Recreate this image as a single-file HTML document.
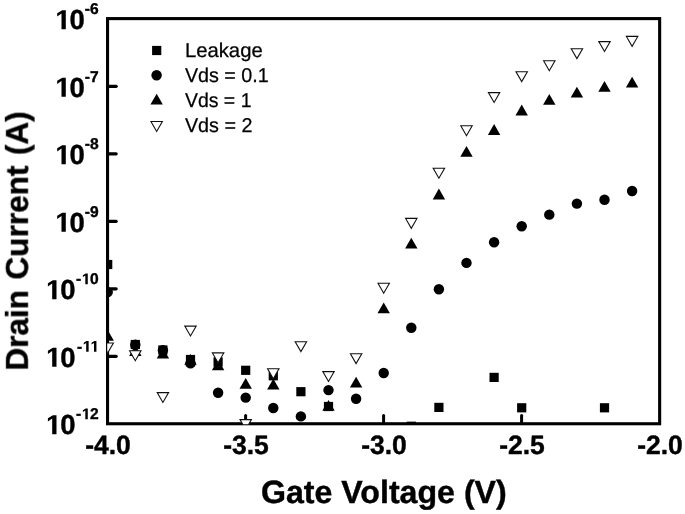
<!DOCTYPE html>
<html><head><meta charset="utf-8"><title>Chart</title>
<style>
html,body{margin:0;padding:0;background:#fff;}
svg{display:block;}
text{font-family:"Liberation Sans",sans-serif;font-weight:bold;fill:#000;stroke:#000;stroke-width:0.4;text-rendering:geometricPrecision;}
</style></head><body>
<svg width="685" height="514" viewBox="0 0 685 514">
<rect x="0" y="0" width="685" height="514" fill="#fff"/>
<defs><filter id="soft" x="0" y="0" width="685" height="514" filterUnits="userSpaceOnUse"><feGaussianBlur stdDeviation="0.45"/></filter><clipPath id="pc"><rect x="107.2" y="18.5" width="552.5" height="405.8"/></clipPath></defs>
<g filter="url(#soft)">
<g><line x1="108" y1="86.35" x2="116.2" y2="86.35" stroke="#000" stroke-width="3.1" stroke-linecap="round"/><line x1="108" y1="153.85" x2="116.2" y2="153.85" stroke="#000" stroke-width="3.1" stroke-linecap="round"/><line x1="108" y1="221.35" x2="116.2" y2="221.35" stroke="#000" stroke-width="3.1" stroke-linecap="round"/><line x1="108" y1="288.85" x2="116.2" y2="288.85" stroke="#000" stroke-width="3.1" stroke-linecap="round"/><line x1="108" y1="356.35" x2="116.2" y2="356.35" stroke="#000" stroke-width="3.1" stroke-linecap="round"/><line x1="245.60" y1="423" x2="245.60" y2="415.6" stroke="#000" stroke-width="3" stroke-linecap="round"/><line x1="383.60" y1="423" x2="383.60" y2="415.6" stroke="#000" stroke-width="3" stroke-linecap="round"/><line x1="521.60" y1="423" x2="521.60" y2="415.6" stroke="#000" stroke-width="3" stroke-linecap="round"/></g>
<rect x="107.55" y="18.6" width="552.1" height="405.15" fill="none" stroke="#000" stroke-width="3.1"/>
<g clip-path="url(#pc)">
<rect x="103.10" y="259.90" width="9.2" height="9.2" fill="#000"/>
<rect x="130.70" y="339.90" width="9.2" height="9.2" fill="#000"/>
<rect x="158.30" y="345.40" width="9.2" height="9.2" fill="#000"/>
<rect x="185.90" y="354.90" width="9.2" height="9.2" fill="#000"/>
<rect x="213.50" y="357.40" width="9.2" height="9.2" fill="#000"/>
<rect x="241.10" y="365.70" width="9.2" height="9.2" fill="#000"/>
<rect x="268.70" y="371.20" width="9.2" height="9.2" fill="#000"/>
<rect x="296.30" y="387.10" width="9.2" height="9.2" fill="#000"/>
<rect x="323.90" y="401.90" width="9.2" height="9.2" fill="#000"/>
<rect x="406.70" y="421.65" width="9.2" height="9.2" fill="#000"/>
<rect x="434.30" y="402.80" width="9.2" height="9.2" fill="#000"/>
<rect x="489.50" y="372.80" width="9.2" height="9.2" fill="#000"/>
<rect x="517.10" y="403.20" width="9.2" height="9.2" fill="#000"/>
<rect x="599.90" y="403.20" width="9.2" height="9.2" fill="#000"/>
<circle cx="107.70" cy="292.10" r="5.22" fill="#000"/>
<circle cx="135.30" cy="344.70" r="5.22" fill="#000"/>
<circle cx="162.90" cy="350.20" r="5.22" fill="#000"/>
<circle cx="190.50" cy="363.40" r="5.22" fill="#000"/>
<circle cx="218.10" cy="392.80" r="5.22" fill="#000"/>
<circle cx="245.70" cy="397.60" r="5.22" fill="#000"/>
<circle cx="273.30" cy="408.00" r="5.22" fill="#000"/>
<circle cx="300.90" cy="416.40" r="5.22" fill="#000"/>
<circle cx="328.50" cy="390.10" r="5.22" fill="#000"/>
<circle cx="356.10" cy="398.80" r="5.22" fill="#000"/>
<circle cx="383.70" cy="373.00" r="5.22" fill="#000"/>
<circle cx="411.30" cy="327.80" r="5.22" fill="#000"/>
<circle cx="438.90" cy="289.30" r="5.22" fill="#000"/>
<circle cx="466.50" cy="262.90" r="5.22" fill="#000"/>
<circle cx="494.10" cy="242.30" r="5.22" fill="#000"/>
<circle cx="521.70" cy="226.20" r="5.22" fill="#000"/>
<circle cx="549.30" cy="214.65" r="5.22" fill="#000"/>
<circle cx="576.90" cy="203.60" r="5.22" fill="#000"/>
<circle cx="604.50" cy="199.70" r="5.22" fill="#000"/>
<circle cx="632.10" cy="191.00" r="5.22" fill="#000"/>
<path d="M107.70 330.00L113.90 340.80L101.50 340.80Z" fill="#000"/>
<path d="M135.30 345.20L141.50 356.00L129.10 356.00Z" fill="#000"/>
<path d="M162.90 347.70L169.10 358.50L156.70 358.50Z" fill="#000"/>
<path d="M190.50 354.00L196.70 364.80L184.30 364.80Z" fill="#000"/>
<path d="M218.10 359.40L224.30 370.20L211.90 370.20Z" fill="#000"/>
<path d="M245.70 377.90L251.90 388.70L239.50 388.70Z" fill="#000"/>
<path d="M273.30 378.70L279.50 389.50L267.10 389.50Z" fill="#000"/>
<path d="M328.50 400.00L334.70 410.80L322.30 410.80Z" fill="#000"/>
<path d="M356.10 376.80L362.30 387.60L349.90 387.60Z" fill="#000"/>
<path d="M383.70 302.40L389.90 313.20L377.50 313.20Z" fill="#000"/>
<path d="M411.30 237.80L417.50 248.60L405.10 248.60Z" fill="#000"/>
<path d="M438.90 188.60L445.10 199.40L432.70 199.40Z" fill="#000"/>
<path d="M466.50 145.90L472.70 156.70L460.30 156.70Z" fill="#000"/>
<path d="M494.10 124.10L500.30 134.90L487.90 134.90Z" fill="#000"/>
<path d="M521.70 104.60L527.90 115.40L515.50 115.40Z" fill="#000"/>
<path d="M549.30 93.90L555.50 104.70L543.10 104.70Z" fill="#000"/>
<path d="M576.90 86.80L583.10 97.60L570.70 97.60Z" fill="#000"/>
<path d="M604.50 80.90L610.70 91.70L598.30 91.70Z" fill="#000"/>
<path d="M632.10 76.80L638.30 87.60L625.90 87.60Z" fill="#000"/>
<path d="M102.00 343.00L113.40 343.00L107.70 352.90Z" fill="#fff" stroke="#111" stroke-width="1.1" stroke-linejoin="miter"/>
<path d="M129.60 350.80L141.00 350.80L135.30 360.70Z" fill="#fff" stroke="#111" stroke-width="1.1" stroke-linejoin="miter"/>
<path d="M157.20 392.60L168.60 392.60L162.90 402.50Z" fill="#fff" stroke="#111" stroke-width="1.1" stroke-linejoin="miter"/>
<path d="M184.80 326.10L196.20 326.10L190.50 336.00Z" fill="#fff" stroke="#111" stroke-width="1.1" stroke-linejoin="miter"/>
<path d="M212.40 352.90L223.80 352.90L218.10 362.80Z" fill="#fff" stroke="#111" stroke-width="1.1" stroke-linejoin="miter"/>
<path d="M240.00 419.60L251.40 419.60L245.70 429.50Z" fill="#fff" stroke="#111" stroke-width="1.1" stroke-linejoin="miter"/>
<path d="M267.60 368.80L279.00 368.80L273.30 378.70Z" fill="#fff" stroke="#111" stroke-width="1.1" stroke-linejoin="miter"/>
<path d="M295.20 341.70L306.60 341.70L300.90 351.60Z" fill="#fff" stroke="#111" stroke-width="1.1" stroke-linejoin="miter"/>
<path d="M322.80 371.60L334.20 371.60L328.50 381.50Z" fill="#fff" stroke="#111" stroke-width="1.1" stroke-linejoin="miter"/>
<path d="M350.40 353.70L361.80 353.70L356.10 363.60Z" fill="#fff" stroke="#111" stroke-width="1.1" stroke-linejoin="miter"/>
<path d="M378.00 283.30L389.40 283.30L383.70 293.20Z" fill="#fff" stroke="#111" stroke-width="1.1" stroke-linejoin="miter"/>
<path d="M405.60 218.40L417.00 218.40L411.30 228.30Z" fill="#fff" stroke="#111" stroke-width="1.1" stroke-linejoin="miter"/>
<path d="M433.20 168.30L444.60 168.30L438.90 178.20Z" fill="#fff" stroke="#111" stroke-width="1.1" stroke-linejoin="miter"/>
<path d="M460.80 125.75L472.20 125.75L466.50 135.65Z" fill="#fff" stroke="#111" stroke-width="1.1" stroke-linejoin="miter"/>
<path d="M488.40 92.60L499.80 92.60L494.10 102.50Z" fill="#fff" stroke="#111" stroke-width="1.1" stroke-linejoin="miter"/>
<path d="M516.00 71.70L527.40 71.70L521.70 81.60Z" fill="#fff" stroke="#111" stroke-width="1.1" stroke-linejoin="miter"/>
<path d="M543.60 60.80L555.00 60.80L549.30 70.70Z" fill="#fff" stroke="#111" stroke-width="1.1" stroke-linejoin="miter"/>
<path d="M571.20 48.70L582.60 48.70L576.90 58.60Z" fill="#fff" stroke="#111" stroke-width="1.1" stroke-linejoin="miter"/>
<path d="M598.80 41.60L610.20 41.60L604.50 51.50Z" fill="#fff" stroke="#111" stroke-width="1.1" stroke-linejoin="miter"/>
<path d="M626.40 36.40L637.80 36.40L632.10 46.30Z" fill="#fff" stroke="#111" stroke-width="1.1" stroke-linejoin="miter"/>
</g>
<g><path d="M535 0L535 1160L215 955L215 1180L590 1409L855 1409L855 0Z" transform="translate(54.31,29.20) scale(0.013428,-0.013428)" fill="#000"/>
<text x="84.9" y="29.20" text-anchor="end" font-size="27.5">0</text>
<text x="98.6" y="14.30" text-anchor="end" font-size="15.6">-6</text>
<path d="M535 0L535 1160L215 955L215 1180L590 1409L855 1409L855 0Z" transform="translate(54.31,96.70) scale(0.013428,-0.013428)" fill="#000"/>
<text x="84.9" y="96.70" text-anchor="end" font-size="27.5">0</text>
<text x="98.6" y="81.80" text-anchor="end" font-size="15.6">-7</text>
<path d="M535 0L535 1160L215 955L215 1180L590 1409L855 1409L855 0Z" transform="translate(54.31,164.20) scale(0.013428,-0.013428)" fill="#000"/>
<text x="84.9" y="164.20" text-anchor="end" font-size="27.5">0</text>
<text x="98.6" y="149.30" text-anchor="end" font-size="15.6">-8</text>
<path d="M535 0L535 1160L215 955L215 1180L590 1409L855 1409L855 0Z" transform="translate(54.31,231.70) scale(0.013428,-0.013428)" fill="#000"/>
<text x="84.9" y="231.70" text-anchor="end" font-size="27.5">0</text>
<text x="98.6" y="216.80" text-anchor="end" font-size="15.6">-9</text>
<path d="M535 0L535 1160L215 955L215 1180L590 1409L855 1409L855 0Z" transform="translate(45.01,299.20) scale(0.013428,-0.013428)" fill="#000"/>
<text x="75.6" y="299.20" text-anchor="end" font-size="27.5">0</text>
<text x="98.6" y="284.30" text-anchor="end" font-size="15.6">0</text>
<path d="M535 0L535 1160L215 955L215 1180L590 1409L855 1409L855 0Z" transform="translate(81.25,284.30) scale(0.007617,-0.007617)" fill="#000"/>
<text x="81.25" y="284.30" text-anchor="end" font-size="15.6">-</text>
<path d="M535 0L535 1160L215 955L215 1180L590 1409L855 1409L855 0Z" transform="translate(45.01,366.70) scale(0.013428,-0.013428)" fill="#000"/>
<text x="75.6" y="366.70" text-anchor="end" font-size="27.5">0</text>
<text x="76.91" y="351.80" font-size="15.6">-</text>
<path d="M535 0L535 1160L215 955L215 1180L590 1409L855 1409L855 0Z" transform="translate(82.11,351.80) scale(0.007617,-0.007617)" fill="#000"/>
<path d="M535 0L535 1160L215 955L215 1180L590 1409L855 1409L855 0Z" transform="translate(89.92,351.80) scale(0.007617,-0.007617)" fill="#000"/>
<path d="M535 0L535 1160L215 955L215 1180L590 1409L855 1409L855 0Z" transform="translate(45.01,434.20) scale(0.013428,-0.013428)" fill="#000"/>
<text x="75.6" y="434.20" text-anchor="end" font-size="27.5">0</text>
<text x="98.6" y="419.30" text-anchor="end" font-size="15.6">2</text>
<path d="M535 0L535 1160L215 955L215 1180L590 1409L855 1409L855 0Z" transform="translate(81.25,419.30) scale(0.007617,-0.007617)" fill="#000"/>
<text x="81.25" y="419.30" text-anchor="end" font-size="15.6">-</text></g>
<g><text x="108.00" y="453.5" text-anchor="middle" font-size="26.5">-4.0</text>
<text x="246.00" y="453.5" text-anchor="middle" font-size="26.5">-3.5</text>
<text x="384.00" y="453.5" text-anchor="middle" font-size="26.5">-3.0</text>
<text x="522.00" y="453.5" text-anchor="middle" font-size="26.5">-2.5</text>
<text x="660.00" y="453.5" text-anchor="middle" font-size="26.5">-2.0</text></g>
<g><rect x="152.10" y="45.90" width="9.2" height="9.2" fill="#000"/>
<circle cx="156.60" cy="75.30" r="5.22" fill="#000"/>
<path d="M156.65 93.70L162.85 104.50L150.45 104.50Z" fill="#000"/>
<path d="M150.95 121.50L162.35 121.50L156.65 131.40Z" fill="#fff" stroke="#111" stroke-width="1.1" stroke-linejoin="miter"/>
<text x="184.9" y="57.2" font-size="20" style="font-weight:normal;stroke-width:0.25" textLength="77.8" lengthAdjust="spacingAndGlyphs">Leakage</text>
<text x="184.9" y="82.0" font-size="20" style="font-weight:normal;stroke-width:0.25" textLength="83.9" lengthAdjust="spacingAndGlyphs">Vds = 0.1</text>
<text x="184.9" y="106.7" font-size="20" style="font-weight:normal;stroke-width:0.25" textLength="66.6" lengthAdjust="spacingAndGlyphs">Vds = 1</text>
<text x="184.9" y="131.5" font-size="20" style="font-weight:normal;stroke-width:0.25" textLength="67.6" lengthAdjust="spacingAndGlyphs">Vds = 2</text></g>
<text x="260.9" y="503.2" font-size="32.15">Gate Voltage (V)</text>
<text transform="translate(27.8,368.6) rotate(-90)" font-size="31.6" x="-2.1" style="word-spacing:1.6px">Drain Current (A)</text>
</g>
</svg>
</body></html>
